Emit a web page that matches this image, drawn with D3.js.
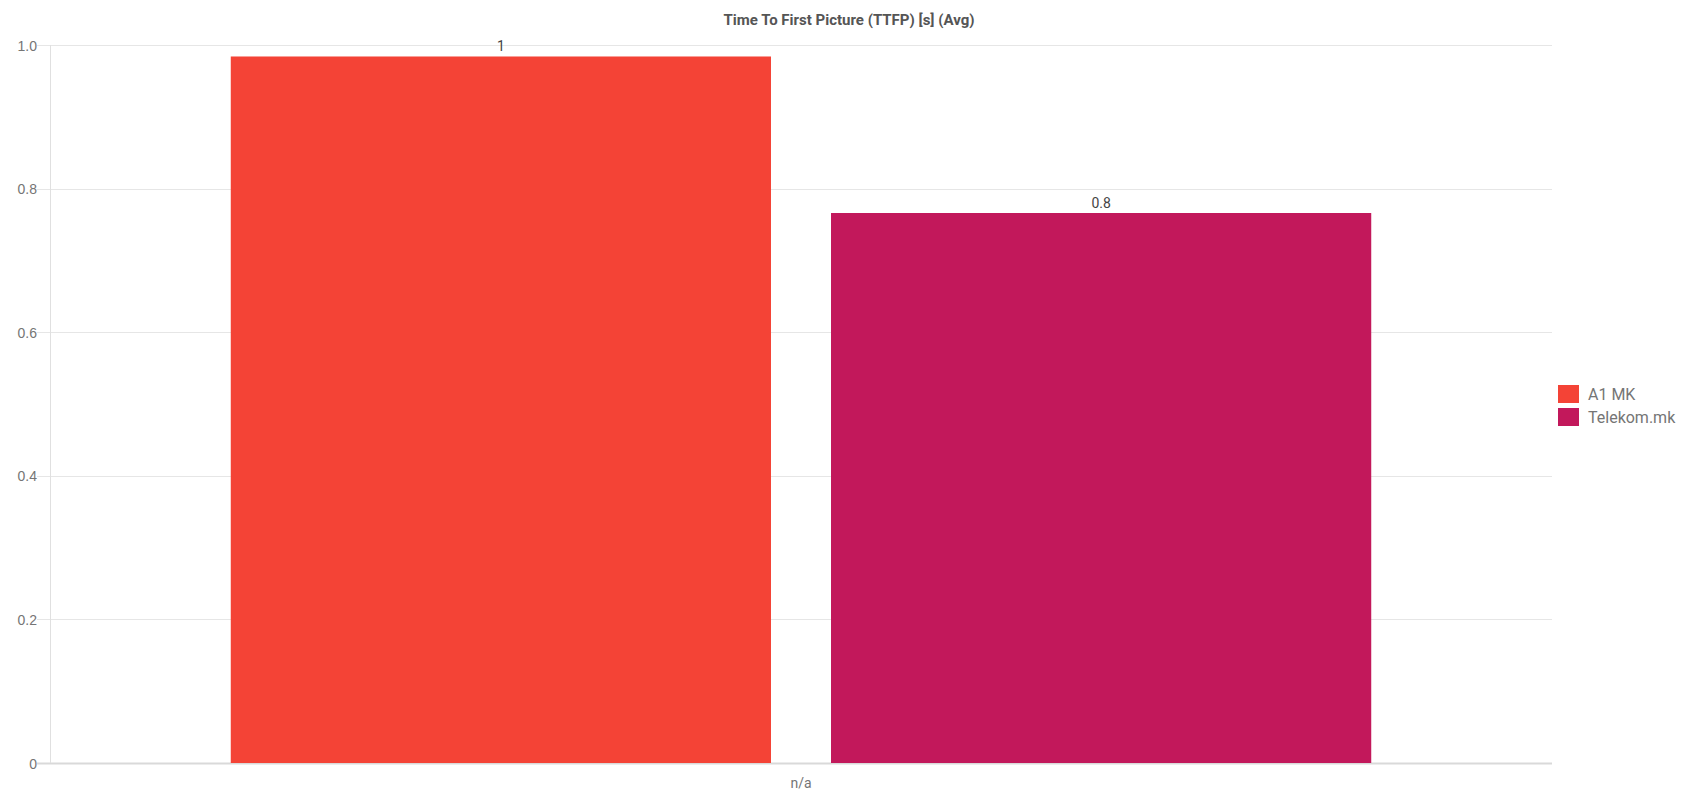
<!DOCTYPE html>
<html>
<head>
<meta charset="utf-8">
<script src="https://cdn.jsdelivr.net/npm/d3@7"></script>
<style>
  html, body { margin: 0; padding: 0; background: #fff; }
  svg { display: block; font-family: Roboto, "Noto Sans", sans-serif; }
</style>
</head>
<body>
<svg id="chart" width="1681" height="792"></svg>
<script>
const title = "Time To First Picture (TTFP) [s] (Avg)";
const categories = ["n/a"];
const seriesNames = ["A1 MK", "Telekom.mk"];
const seriesColors = ["#F44336", "#C2185B"];
const seriesValues = [0.984, 0.766];
const valueLabels = ["1", "0.8"];
const yTicks = [0, 0.2, 0.4, 0.6, 0.8, 1.0];
const yTickLabels = ["0", "0.2", "0.4", "0.6", "0.8", "1.0"];

const svg = d3.select("#chart");
const W = 1681, H = 792;
const m = { left: 50, right: 129, top: 45, bottom: 29 };
const x0 = m.left, x1 = W - m.right, yTop = m.top, yBot = H - m.bottom;

const y = d3.scaleLinear().domain([0, 1]).range([yBot, yTop]);
const xCat = d3.scaleBand().domain(categories).range([x0, x1]).paddingInner(0).paddingOuter(0.1585);
const xSer = d3.scaleBand().domain(seriesNames).range([0, xCat.bandwidth()]).paddingInner(0.1).paddingOuter(0);

// y tick labels
const gyAxis = svg.append("g").attr("transform", `translate(${x0 - 13},0)`).call(
  d3.axisLeft(y).tickValues(yTicks).tickFormat((d, i) => yTickLabels[i]).tickSize(0).tickPadding(0)
);
gyAxis.select(".domain").remove();
gyAxis.selectAll("text").attr("fill", "#757575").style("font-size", "14px").attr("dy", "0.36em");

// gridlines
svg.append("g").selectAll("line").data(yTicks).join("line")
  .attr("x1", x0 - 13).attr("x2", x1)
  .attr("y1", d => Math.round(y(d)) + 0.5).attr("y2", d => Math.round(y(d)) + 0.5)
  .attr("stroke", d => d === 0 ? "#d9d9d9" : "#e6e6e6")
  .attr("stroke-width", d => d === 0 ? 2 : 1);

// vertical axis line
svg.append("line").attr("x1", x0 + 0.5).attr("x2", x0 + 0.5)
  .attr("y1", yTop).attr("y2", yBot).attr("stroke", "#e0e0e0");

// bars
const gBars = svg.append("g");
categories.forEach(cat => {
  const g = gBars.append("g").attr("transform", `translate(${xCat(cat)},0)`);
  g.selectAll("rect").data(seriesNames.map((s, i) => ({ s, v: seriesValues[i], c: seriesColors[i] })))
    .join("rect")
    .attr("x", d => xSer(d.s)).attr("width", xSer.bandwidth())
    .attr("y", d => y(d.v)).attr("height", d => y(0) - y(d.v))
    .attr("fill", d => d.c);
  g.selectAll("text").data(seriesNames.map((s, i) => ({ s, v: seriesValues[i], l: valueLabels[i] })))
    .join("text")
    .attr("x", d => xSer(d.s) + xSer.bandwidth() / 2)
    .attr("y", d => y(d.v) - 5)
    .attr("text-anchor", "middle").attr("fill", "#444").style("font-size", "14px")
    .text(d => d.l);
});

// x axis label
svg.append("g").selectAll("text").data(categories).join("text")
  .attr("x", d => xCat(d) + xCat.bandwidth() / 2).attr("y", 788)
  .attr("text-anchor", "middle").attr("fill", "#757575").style("font-size", "14px")
  .text(d => d);

// title
svg.append("text").attr("x", 849).attr("y", 25).attr("text-anchor", "middle")
  .attr("fill", "#555").style("font-size", "15px").style("font-weight", "bold").text(title);

// legend
const lg = svg.append("g").attr("transform", "translate(1558,385)");
seriesNames.forEach((s, i) => {
  const r = lg.append("g").attr("transform", `translate(0,${i * 23})`);
  r.append("rect").attr("width", 21).attr("height", 18).attr("fill", seriesColors[i]);
  r.append("text").attr("x", 30).attr("y", 9).attr("dy", "0.36em")
    .attr("fill", "#757575").style("font-size", "16px").text(s);
});
</script>
</body>
</html>
